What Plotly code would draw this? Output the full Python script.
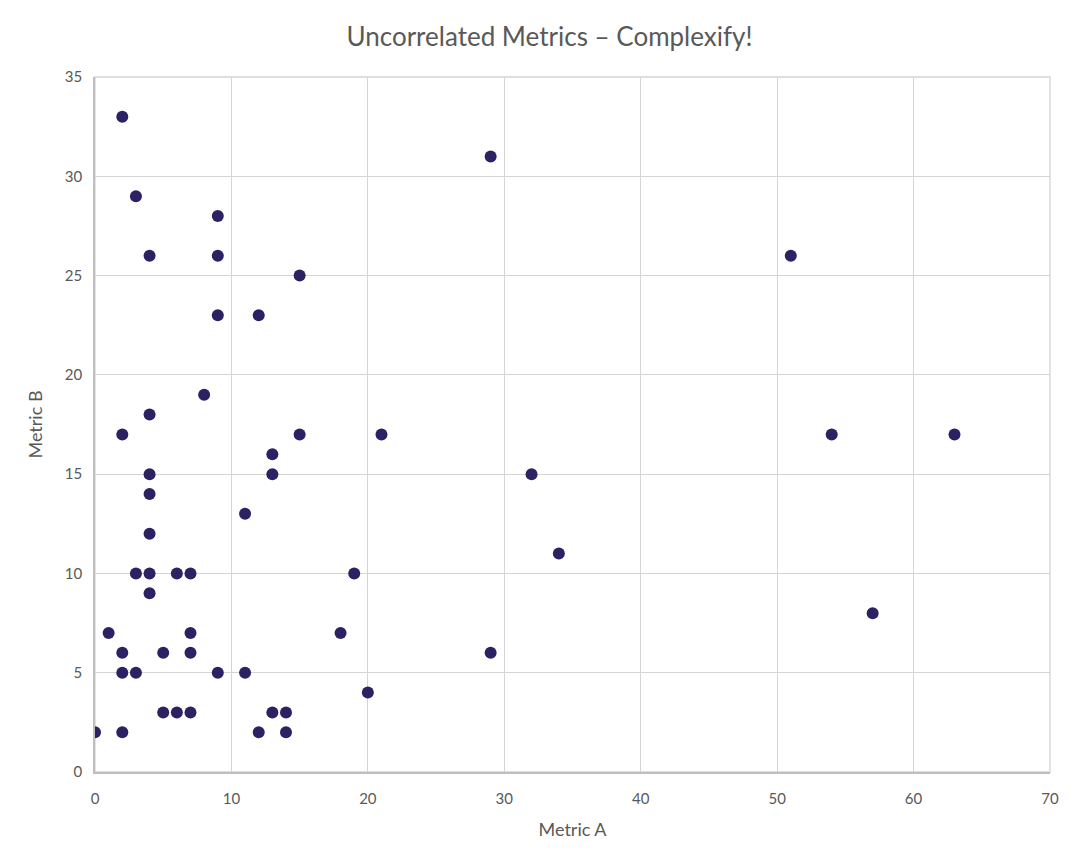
import plotly.graph_objects as go

metric_a = [2, 3, 9, 4, 9, 15, 9, 12, 8, 4, 2, 15, 21, 13, 4, 13, 4, 11, 4, 3, 4, 6, 7, 19, 4,
            1, 7, 18, 2, 5, 7, 2, 3, 9, 11, 20, 5, 6, 7, 13, 14, 0, 2, 12, 14,
            29, 51, 54, 63, 32, 34, 57, 29]
metric_b = [33, 29, 28, 26, 26, 25, 23, 23, 19, 18, 17, 17, 17, 16, 15, 15, 14, 13, 12, 10, 10, 10, 10, 10, 9,
            7, 7, 7, 6, 6, 6, 5, 5, 5, 5, 4, 3, 3, 3, 3, 3, 2, 2, 2, 2,
            31, 26, 17, 17, 15, 11, 8, 6]

title_text = "Uncorrelated Metrics \u2013 Complexify!"
x_title = "Metric A"
y_title = "Metric B"

fig = go.Figure(go.Scatter(
    x=metric_a, y=metric_b, mode="markers",
    marker=dict(color="#2D2163", size=12, line=dict(width=0)),
))

W, H = 1083, 865
ox, oy = 7, 8  # page offset from body margin
font_family = "Lato, 'Open Sans', sans-serif"
fig.update_layout(
    width=W, height=H,
    margin=dict(l=94 - ox, r=W - 1049 + ox, t=77 - oy, b=H - 772 + oy),
    paper_bgcolor="white", plot_bgcolor="white",
    font=dict(family=font_family, color="#595959", size=15),
    title=dict(text=title_text, x=0.5, xanchor="center", y=1 - (37 - oy) / H, yanchor="middle",
               font=dict(size=26, color="#595959")),
    showlegend=False,
)
fig.update_xaxes(range=[0, 70], dtick=10, showgrid=True, gridcolor="#D4D4D4", gridwidth=1.3,
                 showline=True, linecolor="#BFBFBF", linewidth=1.5, zeroline=False,
                 ticks="", ticklen=0, ticklabelstandoff=12,
                 title=dict(text=x_title, font=dict(size=18), standoff=18),
                 tickfont=dict(size=15))
fig.update_yaxes(range=[0, 35], dtick=5, showgrid=True, gridcolor="#D4D4D4", gridwidth=1.3,
                 showline=True, linecolor="#BFBFBF", linewidth=1.5, zeroline=False,
                 ticks="", ticklen=0, ticklabelstandoff=8,
                 title=dict(text=y_title, font=dict(size=18), standoff=18),
                 tickfont=dict(size=15))
fig.add_shape(type="rect", xref="paper", yref="paper", x0=0, x1=1, y0=0, y1=1,
              line=dict(color="#D4D4D4", width=1.3), layer="below")

fig.write_html("out.html")
